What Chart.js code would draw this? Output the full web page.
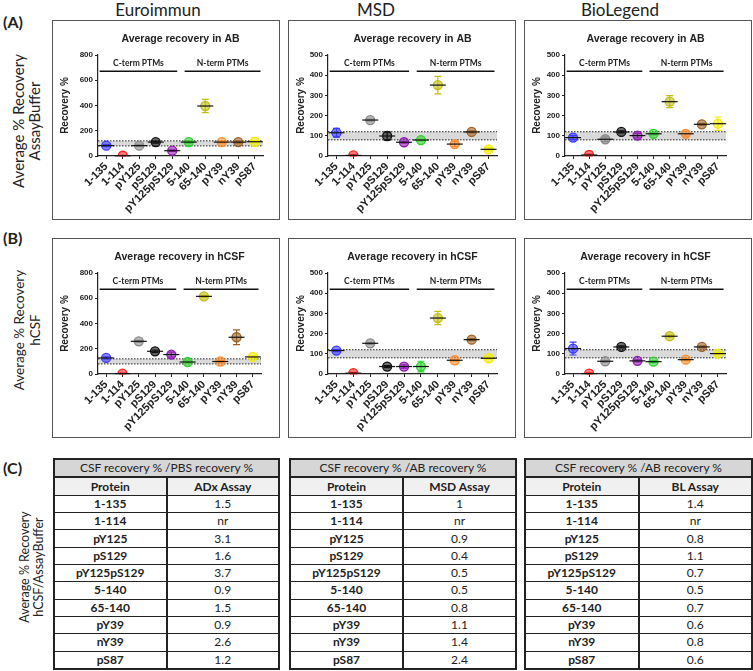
<!DOCTYPE html>
<html>
<head>
<meta charset="utf-8">
<script src="https://cdn.jsdelivr.net/npm/chart.js@4.4.1/dist/chart.umd.min.js"></script>
<style>
  body { margin: 0; width: 753px; height: 671px; position: relative; overflow: hidden; background: #fff; font-family: Lato, sans-serif; color: #222; }
  .hdr { position: absolute; top: -1px; font-size: 17px; transform: translateX(-50%); white-space: nowrap; }
  .tag { position: absolute; left: 3px; font-weight: bold; font-size: 16px; transform: translateY(-50%); }
  .side { position: absolute; width: 220px; text-align: center; white-space: nowrap; transform: translate(-50%, -50%) rotate(-90deg); }
  .box { position: absolute; width: 226px; height: 198px; border: 1px solid #555; }
  .box canvas { position: absolute; left: 0; top: 0; }
  table { position: absolute; top: 458px; height: 212px; border-collapse: collapse; border: 2px solid #222; font-size: 12px; table-layout: fixed; }
  td { border: 1px solid #222; text-align: center; padding: 0; height: 14px; line-height: 14px; }
  td.p { font-weight: bold; width: 92px; border-right: 2px solid #222; }
  tr.t1 td { background: #d6d6d6; border-bottom: 2px solid #222; }
  tr.t2 td { background: #f0f0f0; font-weight: bold; }
</style>
</head>
<body>
<div class="hdr" style="left:158px">Euroimmun</div>
<div class="hdr" style="left:376px">MSD</div>
<div class="hdr" style="left:620px">BioLegend</div>

<div class="tag" style="top:21px">(A)</div>
<div class="tag" style="top:237px">(B)</div>
<div class="tag" style="top:467px">(C)</div>

<div class="side" style="left:26px;top:121px;font-size:15px;line-height:16px">Average % Recovery<br>AssayBuffer</div>
<div class="side" style="left:27px;top:330px;font-size:13.5px;line-height:16px">Average % Recovery<br>hCSF</div>
<div class="side" style="left:32px;top:567px;font-size:12.5px;line-height:14px">Average % Recovery<br>hCSF/AssayBuffer</div>

<div class="box" style="left:52px;top:20px"><canvas id="a1" width="226" height="198"></canvas></div>
<div class="box" style="left:288px;top:20px"><canvas id="a2" width="226" height="198"></canvas></div>
<div class="box" style="left:524px;top:20px"><canvas id="a3" width="226" height="198"></canvas></div>
<div class="box" style="left:52px;top:238px"><canvas id="b1" width="226" height="198"></canvas></div>
<div class="box" style="left:288px;top:238px"><canvas id="b2" width="226" height="198"></canvas></div>
<div class="box" style="left:524px;top:238px"><canvas id="b3" width="226" height="198"></canvas></div>

<table id="t1" style="left:53px;width:227px"></table>
<table id="t2" style="left:289px;width:228px"></table>
<table id="t3" style="left:524px;width:229px"></table>

<script>
  const proteins = ['1-135', '1-114', 'pY125', 'pS129', 'pY125pS129', '5-140', '65-140', 'pY39', 'nY39', 'pS87'];
  const markerColors = ['#3b3bff', '#ff2020', '#8a8a8a', '#111111', '#8e1bb0', '#2fd02f', '#c2be12', '#ff8c2e', '#9c6228', '#f2ec00'];

  // mean and error (+/-)
  const euroAB = [82, 2, 82, 110, 42, 110, 396, 110, 110, 113];
  const euroABerr = [8, 4, 8, 8, 6, 8, 53, 8, 8, 8];
  const msdAB = [115, 3, 178, 99, 68, 79, 351, 59, 119, 33];
  const msdABerr = [22, 4, 5, 20, 5, 4, 43, 12, 5, 8];
  const blAB = [91, 5, 83, 119, 101, 110, 269, 110, 157, 160];
  const blABerr = [10, 5, 12, 5, 12, 5, 30, 12, 5, 33];
  const euroCSF = [127, 3, 259, 180, 154, 95, 615, 99, 291, 135];
  const euroCSFerr = [8, 4, 8, 10, 20, 8, 8, 8, 58, 8];
  const msdCSF = [116, 4, 152, 37, 37, 37, 277, 68, 170, 78];
  const msdCSFerr = [5, 4, 5, 5, 8, 26, 33, 5, 5, 5];
  const blCSF = [126, 2, 63, 134, 65, 61, 187, 71, 134, 101];
  const blCSFerr = [32, 4, 5, 5, 5, 5, 5, 5, 5, 5];

  const bandLow = 80;
  const bandHigh = 120;
  const bracketLabels = ['C-term PTMs', 'N-term PTMs'];

  // table (C)
  const tableHeads = ['CSF recovery % /PBS recovery %', 'CSF recovery % /AB recovery %', 'CSF recovery % /AB recovery %'];
  const assayNames = ['ADx Assay', 'MSD Assay', 'BL Assay'];
  const adxRatio = ['1.5', 'nr', '3.1', '1.6', '3.7', '0.9', '1.5', '0.9', '2.6', '1.2'];
  const msdRatio = ['1', 'nr', '0.9', '0.4', '0.5', '0.5', '0.8', '1.1', '1.4', '2.4'];
  const blRatio = ['1.4', 'nr', '0.8', '1.1', '0.7', '0.5', '0.7', '0.6', '0.8', '0.6'];

  const axisFont = 'Liberation Sans';

  const recoveryPlugin = {
    id: 'recovery',
    beforeDatasetsDraw(chart, args, opts) {
      const { ctx, chartArea: a, scales: { x, y } } = chart;
      ctx.save();
      // 80-120 % band
      const yl = y.getPixelForValue(bandLow), yh = y.getPixelForValue(bandHigh);
      ctx.fillStyle = '#dadada';
      ctx.fillRect(a.left, yh, a.right - a.left, yl - yh);
      ctx.strokeStyle = '#222';
      ctx.lineWidth = 1;
      ctx.setLineDash([1.5, 1.5]);
      [yl, yh].forEach(v => {
        ctx.beginPath(); ctx.moveTo(a.left, v); ctx.lineTo(a.right, v); ctx.stroke();
      });
      ctx.setLineDash([]);
      // error bars
      const vals = chart.data.datasets[0].data;
      vals.forEach((v, i) => {
        const px = x.getPixelForValue(i);
        const t = y.getPixelForValue(v + opts.err[i]);
        const b = y.getPixelForValue(Math.max(v - opts.err[i], 0));
        ctx.strokeStyle = markerColors[i];
        ctx.lineWidth = 1.2;
        ctx.beginPath();
        ctx.moveTo(px, t); ctx.lineTo(px, b);
        ctx.moveTo(px - 3.5, t); ctx.lineTo(px + 3.5, t);
        ctx.moveTo(px - 3.5, b); ctx.lineTo(px + 3.5, b);
        ctx.stroke();
      });
      ctx.restore();
    },
    afterDatasetsDraw(chart) {
      const { ctx, scales: { x, y } } = chart;
      ctx.save();
      ctx.strokeStyle = '#111';
      ctx.lineWidth = 1.2;
      chart.data.datasets[0].data.forEach((v, i) => {
        const px = x.getPixelForValue(i), py = y.getPixelForValue(v);
        ctx.beginPath(); ctx.moveTo(px - 8, py); ctx.lineTo(px + 8, py); ctx.stroke();
      });
      ctx.restore();
    },
    afterDraw(chart, args, opts) {
      const { ctx, chartArea: a, scales: { x, y } } = chart;
      ctx.save();
      ctx.fillStyle = '#222';
      ctx.textAlign = 'center';
      ctx.textBaseline = 'middle';
      ctx.font = 'bold 10.5px ' + axisFont;
      ctx.fillText(opts.title, (a.left + a.right) / 2, a.top - 16);

      const step = x.getPixelForValue(1) - x.getPixelForValue(0);
      const by = y.getPixelForValue(y.max * 0.84);
      const spans = [[x.getPixelForValue(0) - 0.4 * step, x.getPixelForValue(4) + 0.3 * step],
                     [x.getPixelForValue(5) - 0.25 * step, x.getPixelForValue(9) + 0.35 * step]];
      ctx.strokeStyle = '#111';
      ctx.lineWidth = 1.5;
      ctx.font = 'bold 8.5px Lato';
      spans.forEach((s, k) => {
        ctx.beginPath(); ctx.moveTo(s[0], by); ctx.lineTo(s[1], by); ctx.stroke();
        ctx.fillText(bracketLabels[k], (s[0] + s[1]) / 2, by - 8);
      });
      ctx.restore();
    }
  };

  const panels = [
    { id: 'a1', title: 'Average recovery in AB', values: euroAB, err: euroABerr, max: 800, step: 200, left: 45, right: 210 },
    { id: 'a2', title: 'Average recovery in AB', values: msdAB, err: msdABerr, max: 500, step: 100, left: 39, right: 208 },
    { id: 'a3', title: 'Average recovery in AB', values: blAB, err: blABerr, max: 500, step: 100, left: 40, right: 201 },
    { id: 'b1', title: 'Average recovery in hCSF', values: euroCSF, err: euroCSFerr, max: 800, step: 200, left: 45, right: 208 },
    { id: 'b2', title: 'Average recovery in hCSF', values: msdCSF, err: msdCSFerr, max: 500, step: 100, left: 39, right: 208 },
    { id: 'b3', title: 'Average recovery in hCSF', values: blCSF, err: blCSFerr, max: 500, step: 100, left: 40, right: 201 }
  ];

  panels.forEach(p => {
    new Chart(document.getElementById(p.id), {
      type: 'line',
      data: {
        labels: proteins,
        datasets: [{
          data: p.values,
          showLine: false,
          pointRadius: 4.5,
          pointBorderWidth: 1.3,
          pointBorderColor: markerColors,
          pointBackgroundColor: markerColors.map(c => c + '99')
        }]
      },
      options: {
        responsive: false,
        animation: false,
        layout: { padding: { left: 6, right: 226 - p.right, top: 34, bottom: 0 } },
        plugins: {
          legend: { display: false },
          tooltip: { enabled: false },
          recovery: { title: p.title, err: p.err }
        },
        scales: {
          x: {
            type: 'category',
            offset: true,
            afterFit: s => { s.height = 63; },
            grid: { display: true, drawOnChartArea: false, offset: false, tickLength: 3, color: '#222' },
            border: { display: true, color: '#222', width: 1.2 },
            ticks: {
              autoSkip: false, minRotation: 45, maxRotation: 45, padding: 1, color: '#222',
              font: { family: axisFont, size: 11, weight: 'bold' }
            }
          },
          y: {
            min: 0,
            max: p.max,
            afterFit: s => { s.width = p.left - 6; },
            grid: { display: true, drawOnChartArea: false, tickLength: 3, color: '#222' },
            border: { display: true, color: '#222', width: 1.2 },
            ticks: {
              stepSize: p.step, padding: 2, color: '#222',
              font: { family: axisFont, size: 8, weight: 'bold' }
            },
            title: {
              display: true, text: 'Recovery %', color: '#222', padding: { top: 0, bottom: 2 },
              font: { family: axisFont, size: 10, weight: 'bold' }
            }
          }
        }
      },
      plugins: [recoveryPlugin]
    });
  });

  // tables
  [[ 't1', adxRatio ], [ 't2', msdRatio ], [ 't3', blRatio ]].forEach(([id, vals], k) => {
    let html = `<tr class="t1"><td colspan="2">${tableHeads[k]}</td></tr>`;
    html += `<tr class="t2"><td class="p">Protein</td><td>${assayNames[k]}</td></tr>`;
    proteins.forEach((name, i) => {
      html += `<tr><td class="p">${name}</td><td>${vals[i]}</td></tr>`;
    });
    document.getElementById(id).innerHTML = html;
  });
</script>
</body>
</html>
